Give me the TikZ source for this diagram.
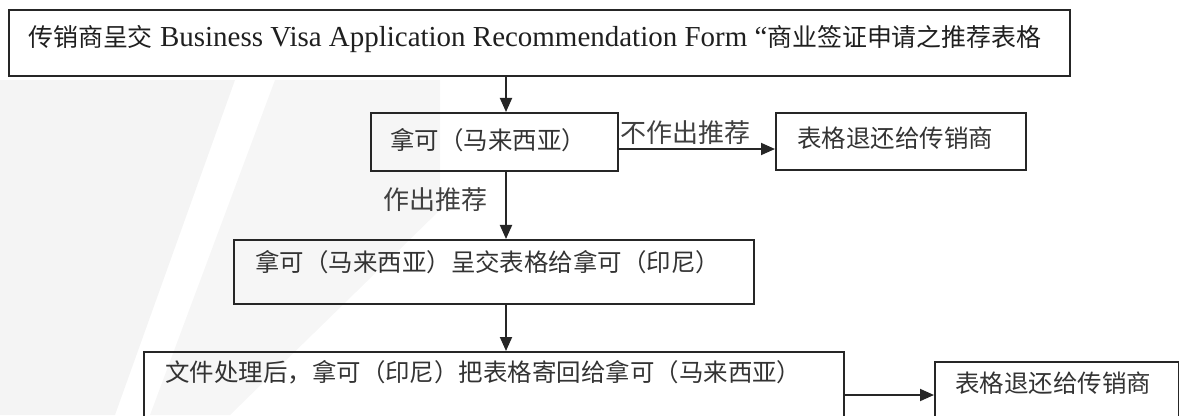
\documentclass[tikz,border=0pt]{standalone}
\usepackage{fontspec}
\setmainfont{Liberation Serif}
\newfontfamily\cjk{Noto Sans CJK SC}
\usetikzlibrary{arrows.meta}
\tikzset{
  box/.style={draw=black!85, line width=1.3pt, rectangle, inner sep=0pt, anchor=north west},
  txt/.style={inner sep=0pt, anchor=west, text=black!80, font=\cjk\fontsize{17.4pt}{20pt}\selectfont},
  lbl/.style={inner sep=0pt, text=black!75, font=\cjk\fontsize{18.5pt}{21pt}\selectfont},
  arr/.style={draw=black!85, line width=1.3pt, -{Triangle[length=0.35cm,width=0.3cm]}},
}
\newfontfamily\cjktop{Noto Sans CJK SC}[Scale=0.86]
\begin{document}
\begin{tikzpicture}[x=0.025cm, y=-0.025cm]
\useasboundingbox (0,0) rectangle (1179,415);
\clip (0,0) rectangle (1179,415);
% faint scan watermark
\fill[gray!9] (0,80) -- (235,80) -- (115,415) -- (0,415) -- cycle;
\fill[gray!7] (275,80) -- (440,80) -- (440,210) -- (230,415) -- (150,415) -- cycle;
% boxes
\node[box, minimum width=26.525cm, minimum height=1.65cm] (b1) at (8,9) {};
\node[box, minimum width=6.175cm, minimum height=1.45cm] (b2) at (370,112) {};
\node[box, minimum width=6.25cm, minimum height=1.425cm] (b3) at (775,112) {};
\node[box, minimum width=13cm, minimum height=1.6cm] (b4) at (233,239) {};
\node[box, minimum width=17.5cm, minimum height=2.5cm] (b5) at (143,351) {};
\node[box, minimum width=6.1cm, minimum height=2.5cm] (b6) at (934,361) {};
% texts
\node[txt, text=black!88, font=\fontsize{20.6pt}{24pt}\selectfont] (t1) at (28,39)
  {{\cjktop 传销商呈交} Business Visa Application Recommendation Form “{\cjktop 商业签证申请之推荐表格}};
\node[txt] (t2) at (390,140) {拿可（马来西亚）};
\node[txt] (t3) at (797,138) {表格退还给传销商};
\node[txt] (t4) at (255,262) {拿可（马来西亚）呈交表格给拿可（印尼）};
\node[txt] (t5) at (165,372) {文件处理后，拿可（印尼）把表格寄回给拿可（马来西亚）};
\node[txt] (t6) at (955,383) {表格退还给传销商};
% connectors
\coordinate (v) at (506,0);
\coordinate (h1) at (0,149);
\coordinate (h2) at (0,395);
\draw[arr] (b1.south -| v) -- (b2.north -| v);
\draw[arr] (b2.south -| v) -- (b4.north -| v);
\draw[arr] (b4.south -| v) -- (b5.north -| v);
\draw[arr] (b2.east |- h1) -- (b3.west |- h1);
\draw[arr] (b5.east |- h2) -- (b6.west |- h2);
% labels
\node[lbl, anchor=west] (l1) at (620,133) {不作出推荐};
\node[lbl, anchor=east] (l2) at (488,200) {作出推荐};
\end{tikzpicture}
\end{document}
